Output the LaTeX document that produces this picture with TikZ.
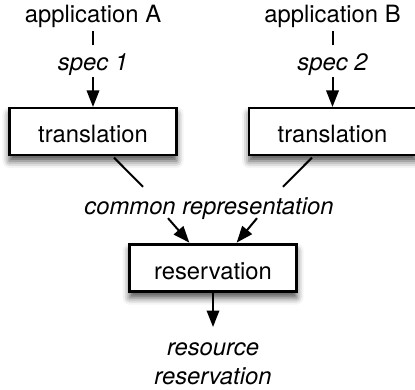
\documentclass[tikz,border=0pt]{standalone}
\usepackage{fontspec}
\setmainfont{TeX Gyre Heros}
\usepackage{tikz}
\usetikzlibrary{shapes}
\usetikzlibrary{arrows.meta}
\usetikzlibrary{shadows.blur}
\tikzset{node distance=2cm, auto}
\tikzset{
  stage/.style={draw=black, fill=white, line width=2.2pt, minimum width=167pt, minimum height=47pt,
    inner sep=0pt, text height=22pt, text depth=0pt,
    blur shadow={shadow xshift=0pt, shadow yshift=-6pt, shadow blur radius=7pt, shadow opacity=70}},
  lbl/.style={inner sep=0pt, text height=17pt, text depth=5pt},
  conn/.style={line width=2pt},
  arr/.style={line width=2pt, -{Triangle[length=16.5pt,width=12.5pt]}}
}

\begin{document}
\begin{tikzpicture}[x=1pt,y=-1pt,font=\fontsize{23.8}{28.5}\selectfont]
\useasboundingbox (0,0) rectangle (415,389);

\node[lbl, anchor=base] (appA) at (93,22.7) {application A};
\node[lbl, anchor=base] (appB) at (332.5,22.7) {application B};
\node[lbl, anchor=base] (spec1) at (93,70.7) {\itshape spec 1};
\node[lbl, anchor=base] (spec2) at (332.5,70.7) {\itshape spec 2};
\node[stage] (trans1) at (93,131.5) {translation};
\node[stage] (trans2) at (332.5,131.5) {translation};
\node[lbl, anchor=base] (common) at (209,214) {\itshape common representation};
\node[stage] (res) at (213,268) {reservation};
\node[inner sep=0pt, anchor=north, align=center] (rr) at (213,342.5) {\itshape resource\\\itshape reservation};

\draw[conn, shorten <=3pt, shorten >=8.7pt] (appA) -- (spec1);
\draw[conn, shorten <=3pt, shorten >=8.7pt] (appB) -- (spec2);
\draw[arr, shorten <=1pt] (spec1) -- (trans1);
\draw[arr, shorten <=1pt] (spec2) -- (trans2);
\draw[conn] ([xshift=21pt,yshift=-1.5pt]trans1.south) -- ([xshift=-66pt,yshift=10pt]common.north);
\draw[conn] ([xshift=-20.5pt,yshift=-1.5pt]trans2.south) -- ([xshift=74pt,yshift=10pt]common.north);
\draw[arr, shorten >=1pt] ([xshift=-41pt,yshift=1pt]common.south) -- ([xshift=-23pt]res.north);
\draw[arr, shorten >=1pt] ([xshift=48pt,yshift=1pt]common.south) -- ([xshift=23pt]res.north);
\draw[arr, shorten >=15.5pt] (res) -- (rr);

\end{tikzpicture}
\end{document}
